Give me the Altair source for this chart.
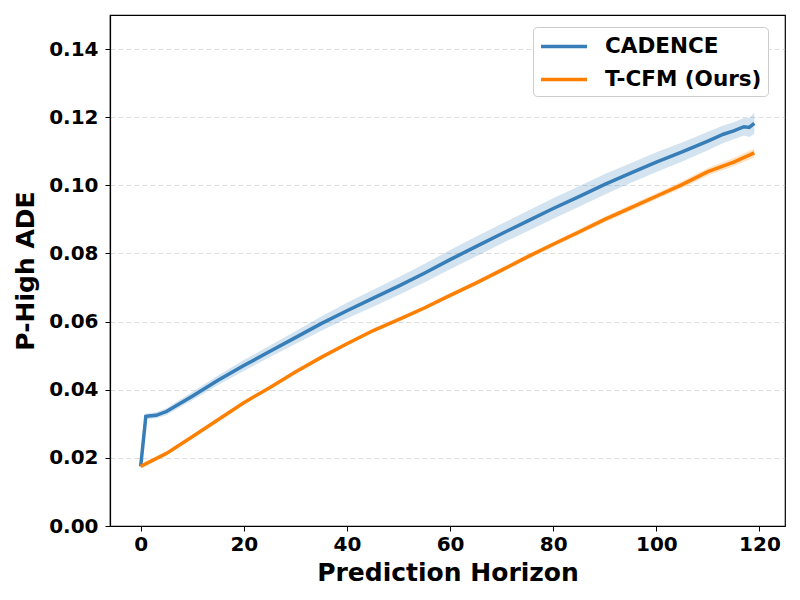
import altair as alt
import pandas as pd

# CADENCE series
cad_x = [0, 1, 3, 5, 10, 15, 20, 25, 30, 35, 40, 45, 50, 55, 60, 65, 70, 75, 80, 85, 90, 95, 100, 105, 110, 113, 115, 117, 118, 119]
cad_y = [0.0175, 0.0322, 0.0325, 0.0336, 0.0381, 0.0428, 0.0471, 0.0512, 0.0553, 0.0594, 0.0632, 0.0668,
         0.0704, 0.0742, 0.0782, 0.0820, 0.0858, 0.0895, 0.0932, 0.0967, 0.1003, 0.1036, 0.1068, 0.1098,
         0.1130, 0.1150, 0.1160, 0.1172, 0.1170, 0.1182]
cad_err = [0.0005, 0.0008, 0.0009, 0.0010, 0.0012, 0.0014, 0.0016, 0.0017, 0.0019, 0.0021, 0.0023, 0.0025,
           0.0026, 0.0027, 0.0028, 0.0029, 0.0029, 0.0030, 0.0030, 0.0030, 0.0030, 0.0029, 0.0029, 0.0028,
           0.0027, 0.0026, 0.0025, 0.0026, 0.0028, 0.0031]

# T-CFM series
tcfm_x = [0, 5, 10, 15, 20, 25, 30, 35, 40, 45, 50, 55, 60, 65, 70, 75, 80, 85, 90, 95, 100, 105, 110, 115, 119]
tcfm_y = [0.0175, 0.0213, 0.0262, 0.0312, 0.0362, 0.0406, 0.0452, 0.0495, 0.0535, 0.0573, 0.0606, 0.0640,
          0.0677, 0.0713, 0.0751, 0.0790, 0.0827, 0.0863, 0.0900, 0.0934, 0.0968, 0.1002, 0.1040, 0.1068, 0.1095]
tcfm_err = [0.0002, 0.0003, 0.0003, 0.0004, 0.0004, 0.0004, 0.0005, 0.0005, 0.0005, 0.0005, 0.0006, 0.0006,
            0.0006, 0.0006, 0.0007, 0.0007, 0.0007, 0.0008, 0.0008, 0.0009, 0.0009, 0.0010, 0.0011, 0.0012, 0.0013]

series_names = ["CADENCE", "T-CFM (Ours)"]
series_colors = ["#377eb8", "#ff7f00"]

x_ticks = [0, 20, 40, 60, 80, 100, 120]
y_ticks = [0.0, 0.02, 0.04, 0.06, 0.08, 0.10, 0.12, 0.14]

rows = []
for x, y, e in zip(cad_x, cad_y, cad_err):
    rows.append({"series": series_names[0], "x": x, "y": y, "lo": y - e, "hi": y + e})
for x, y, e in zip(tcfm_x, tcfm_y, tcfm_err):
    rows.append({"series": series_names[1], "x": x, "y": y, "lo": y - e, "hi": y + e})
df = pd.DataFrame(rows)

FONT = "DejaVu Sans"

xscale = alt.Scale(domain=[-5.95, 124.95], nice=False, zero=False)
yscale = alt.Scale(domain=[0, 0.15], nice=False)

xenc = alt.X("x:Q", scale=xscale,
             axis=alt.Axis(values=x_ticks, title="Prediction Horizon", grid=False, format="d"))
yenc = alt.Y("y:Q", scale=yscale,
             axis=alt.Axis(values=y_ticks, title="P-High ADE", format=".2f", grid=True,
                           gridDash=[5, 3], gridColor="#b0b0b0", gridOpacity=0.55, gridWidth=0.8))

band = alt.Chart(df).mark_area(opacity=0.22, interpolate="linear").encode(
    x=alt.X("x:Q", scale=xscale),
    y=alt.Y("lo:Q", scale=yscale), y2="hi:Q",
    color=alt.Color("series:N", scale=alt.Scale(domain=series_names, range=series_colors), legend=None),
    detail="series:N",
)

lines = alt.Chart(df).mark_line(strokeWidth=3.5).encode(
    x=xenc, y=yenc,
    color=alt.Color("series:N", scale=alt.Scale(domain=series_names, range=series_colors),
                    sort=series_names,
                    legend=alt.Legend(
                        title=None, orient="none", legendX=423, legendY=12,
                        symbolType="M-1,0L3,0", symbolSize=529, symbolStrokeWidth=3.5,
                        labelFontSize=21.5, labelFont=FONT, labelFontWeight="bold", labelColor="black",
                        padding=6, rowPadding=9, labelOffset=39, labelLimit=400,
                        fillColor="white", strokeColor="#cccccc", cornerRadius=4,
                    )),
)

chart = alt.layer(band, lines).resolve_scale(color="independent").properties(
    width=675, height=511,
    autosize=alt.AutoSizeParams(type="none"),
    padding={"left": 102, "top": 7, "right": 7, "bottom": 66},
).configure_view(
    stroke="black", strokeWidth=1.2
).configure_axis(
    labelFont=FONT, labelFontSize=20, labelFontWeight="bold", labelColor="black",
    titleFont=FONT, titleFontSize=25, titleFontWeight="bold", titleColor="black",
    domainColor="black", domainWidth=1.2, tickColor="black", tickSize=5, tickWidth=1,
).configure_axisX(titlePadding=6, labelPadding=3).configure_axisY(titlePadding=10, labelPadding=7)

chart.save("out.html", embed_options={"renderer": "svg", "actions": False})
